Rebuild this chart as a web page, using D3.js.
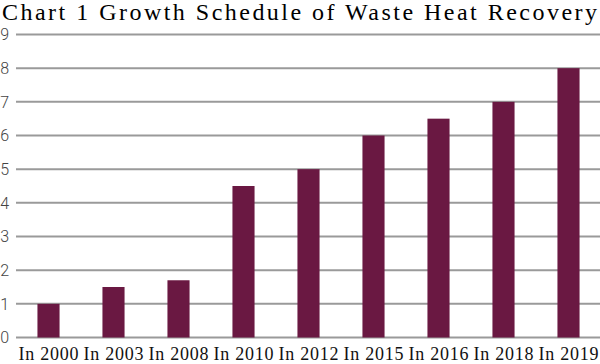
<!DOCTYPE html>
<html>
<head>
<meta charset="utf-8">
<script src="https://cdn.jsdelivr.net/npm/d3@7"></script>
<style>
  html, body { margin: 0; padding: 0; background: #fff; }
</style>
</head>
<body>
<div class="canvas"></div>
<script>
const years = ['In 2000', 'In 2003', 'In 2008', 'In 2010', 'In 2012', 'In 2015', 'In 2016', 'In 2018', 'In 2019'];
const values = [1, 1.5, 1.7, 4.5, 5, 6, 6.5, 7, 8];
const yTicks = [0, 1, 2, 3, 4, 5, 6, 7, 8, 9];

const width = 600, height = 364;

const svg = d3.select('.canvas')
    .append('svg')
    .attr('width', width)
    .attr('height', height);

// scales
const x = d3.scaleBand()
    .domain(years)
    .range([16, 601])
    .paddingInner(0.66)
    .paddingOuter(0.33);

const y = d3.scaleLinear()
    .domain([0, 9])
    .range([337.5, 34.5]);

// gridlines
svg.append('g')
    .selectAll('line')
    .data(yTicks)
    .enter()
    .append('line')
    .attr('x1', 16)
    .attr('x2', 600)
    .attr('y1', d => y(d))
    .attr('y2', d => y(d))
    .attr('stroke', '#9a9a9a')
    .attr('stroke-width', 2);

// y tick labels
svg.append('g')
    .selectAll('text')
    .data(yTicks)
    .enter()
    .append('text')
    .attr('x', 9)
    .attr('y', d => y(d))
    .attr('dy', '0.36em')
    .attr('text-anchor', 'end')
    .attr('fill', '#444')
    .style('font-family', 'Roboto, sans-serif')
    .style('font-weight', 300)
    .style('font-size', '16px')
    .text(d => d);

// bars
svg.append('g')
    .selectAll('rect')
    .data(values)
    .enter()
    .append('rect')
    .attr('x', (d, i) => x(years[i]))
    .attr('y', d => y(d))
    .attr('width', x.bandwidth())
    .attr('height', d => y(0) - y(d))
    .attr('fill', '#6a1842');

// x labels
svg.append('g')
    .selectAll('text')
    .data(years)
    .enter()
    .append('text')
    .attr('x', d => x(d) + x.bandwidth() / 2 - 30)
    .attr('y', 360)
    .attr('textLength', 60)
    .attr('lengthAdjust', 'spacing')
    .attr('fill', '#111')
    .style('font-family', '"Liberation Serif", serif')
    .style('font-size', '18px')
    .text(d => d);

// title
svg.append('text')
    .attr('x', 2)
    .attr('y', 20)
    .attr('textLength', 595)
    .attr('lengthAdjust', 'spacing')
    .attr('fill', '#000')
    .style('font-family', '"Liberation Serif", serif')
    .style('font-size', '24px')
    .text('Chart 1 Growth Schedule of Waste Heat Recovery');
</script>
</body>
</html>
